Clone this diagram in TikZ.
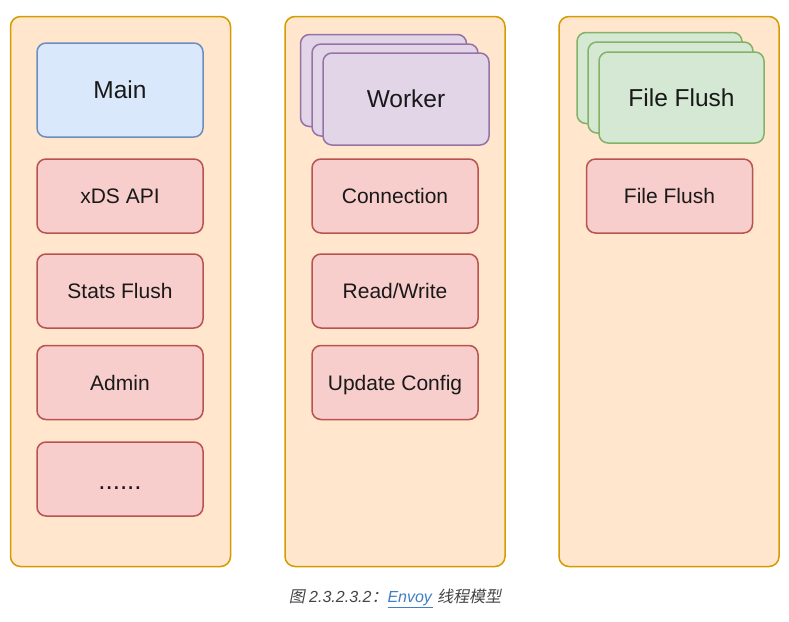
\documentclass[tikz,border=0pt]{standalone}
\usepackage{fontspec}
\setmainfont{Liberation Sans}
\newfontfamily\cjk[FakeSlant=0.2]{Noto Sans CJK SC}
\usepackage{xcolor}
\usepackage{tikz}
\definecolor{colfill}{HTML}{FFE6CC}
\definecolor{coldraw}{HTML}{D79B00}
\definecolor{mainfill}{HTML}{DAE8FC}
\definecolor{maindraw}{HTML}{6C8EBF}
\definecolor{taskfill}{HTML}{F8CECC}
\definecolor{taskdraw}{HTML}{B85450}
\definecolor{workfill}{HTML}{E1D5E7}
\definecolor{workdraw}{HTML}{9673A6}
\definecolor{filefill}{HTML}{D5E8D4}
\definecolor{filedraw}{HTML}{82B366}
\definecolor{capgray}{HTML}{444444}
\definecolor{linkblue}{HTML}{3F7FC5}
\tikzset{
	column/.style={draw=coldraw,fill=colfill,line width=1.5pt,rounded corners=10pt,
		minimum width=220pt,minimum height=550pt,inner sep=0pt},
	box/.style={line width=1.5pt,rounded corners=9pt,inner sep=0pt,
		minimum width=166pt,text=black!90},
	mainbox/.style={box,draw=maindraw,fill=mainfill,minimum height=94pt,font=\fontsize{24.5}{28}\selectfont},
	taskbox/.style={box,draw=taskdraw,fill=taskfill,minimum height=74pt,
		text height=15pt,text depth=0pt,font=\fontsize{21}{25}\selectfont},
	workbox/.style={box,draw=workdraw,fill=workfill,minimum height=92pt,font=\fontsize{24.5}{28}\selectfont},
	filebox/.style={box,draw=filedraw,fill=filefill,minimum width=165pt,minimum height=91pt,font=\fontsize{24.5}{28}\selectfont}
}
\begin{document}
\begin{tikzpicture}[x=1pt,y=-1pt]
	\useasboundingbox[fill=white] (0,0) rectangle (789,621);
	% columns
	\node[column] (colmain) at (120.5,291.5) {};
	\node[column] (colwork) at (395,291.5) {};
	\node[column] (colfile) at (669,291.5) {};
	% main thread
	\node[mainbox] (main) at (120,90) {Main};
	\node[taskbox] (xds) at (120,196) {xDS API};
	\node[taskbox] (stats) at (120,291) {Stats Flush};
	\node[taskbox] (admin) at (120,382.5) {Admin};
	\node[taskbox,font=\fontsize{26}{30}\selectfont] (more) at (120,479) {\raisebox{-3pt}{......}};
	% worker threads
	\node[workbox] (work3) at (383.5,80.5) {};
	\node[workbox] (work2) at (395,90) {};
	\node[workbox] (work1) at (406,99) {Worker};
	\node[taskbox] (conn) at (395,196) {Connection};
	\node[taskbox] (rw) at (395,291) {Read/Write};
	\node[taskbox] (upd) at (395,382.5) {Update Config};
	% file flush threads
	\node[filebox] (file3) at (659.5,78) {};
	\node[filebox] (file2) at (670.5,87.5) {};
	\node[filebox] (file1) at (681.5,97.5) {File Flush};
	\node[taskbox] (flush) at (669.5,196) {File Flush};
	% caption
	\node[text=capgray,font=\fontsize{16}{19}\selectfont] (cap) at (395,598)
		{{\cjk 图} \textit{2.3.2.3.2}{\cjk ：}\textcolor{linkblue}{\underline{\textit{Envoy}}}\ {\cjk 线程模型}};
\end{tikzpicture}
\end{document}
